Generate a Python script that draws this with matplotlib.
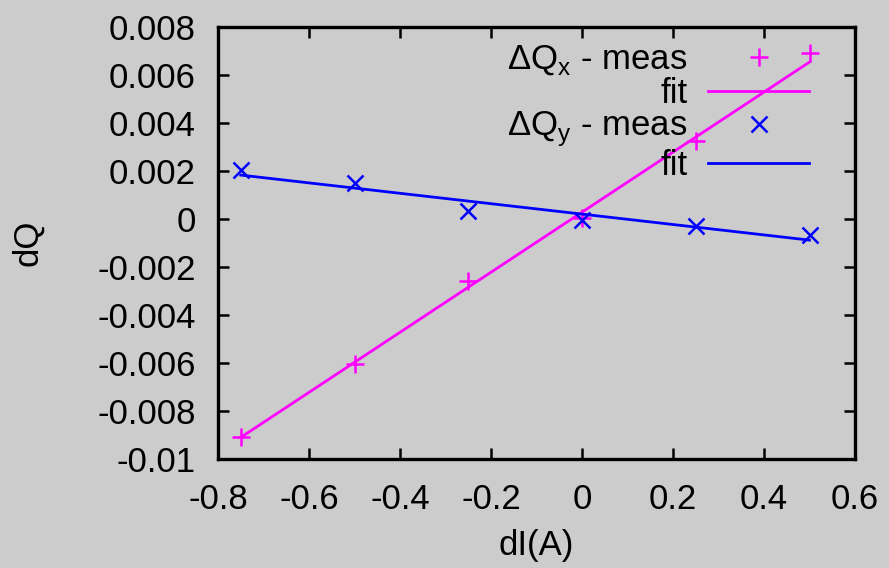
import matplotlib

matplotlib.use("Agg")
import matplotlib.pyplot as plt

# measured tune shifts vs current change
dI = [-0.75, -0.5, -0.25, 0.0, 0.25, 0.5]
dQx_meas = [-0.00908, -0.00606, -0.00260, 0.00004, 0.00325, 0.00690]
dQy_meas = [0.00204, 0.00150, 0.00033, -0.00006, -0.00030, -0.00066]

# fitted lines (end points)
fit_x = [-0.75, 0.5]
fitx_y = [-0.00910, 0.00654]
fity_y = [0.00183, -0.00088]

xticks = [-0.8, -0.6, -0.4, -0.2, 0, 0.2, 0.4, 0.6]
yticks = [0.008, 0.006, 0.004, 0.002, 0, -0.002, -0.004, -0.006, -0.008, -0.01]

BG = "#cccccc"
MAGENTA = "#ff00ff"
BLUE = "#0000ff"

plt.rcParams["font.family"] = ["Liberation Sans", "DejaVu Sans"]
plt.rcParams["font.size"] = 25
plt.rcParams["mathtext.fontset"] = "custom"
plt.rcParams["mathtext.rm"] = "Liberation Sans"

fig = plt.figure(figsize=(8.89, 5.68), dpi=100, facecolor=BG)
ax = fig.add_axes([218 / 889, 1 - 459 / 568, 637 / 889, 432 / 568], facecolor=BG)

ax.plot(dI, dQx_meas, linestyle="none", marker="+", markersize=13,
        markeredgewidth=1.8, color=MAGENTA, label="ΔQ$_\\mathregular{x}$ - meas")
ax.plot(fit_x, fitx_y, color=MAGENTA, linewidth=2.0, label="fit")
ax.plot(dI, dQy_meas, linestyle="none", marker="x", markersize=11.5,
        markeredgewidth=1.8, color=BLUE, label="ΔQ$_\\mathregular{y}$ - meas")
ax.plot(fit_x, fity_y, color=BLUE, linewidth=2.0, label="fit")

ax.set_xlim(-0.8, 0.6)
ax.set_ylim(-0.01, 0.008)
ax.set_xticks(xticks)
ax.set_xticklabels([f"{t:g}" for t in xticks])
ax.set_yticks(yticks)
ax.set_yticklabels([f"{t:g}" for t in yticks])
ax.tick_params(direction="in", length=8, width=1.8, top=True, right=True)
ax.tick_params(axis="x", pad=17)
ax.tick_params(axis="y", pad=16)
for sp in ax.spines.values():
    sp.set_linewidth(2.4)

ax.set_xlabel("dI(A)", labelpad=10)
ax.set_ylabel("dQ", labelpad=38)

ax.legend(loc="upper right", bbox_to_anchor=(0.966, 1.02), frameon=False,
          markerfirst=False, numpoints=1, handlelength=2.9, handletextpad=0.6,
          borderpad=0.2, labelspacing=0.0)

fig.savefig("out.png", dpi=100, facecolor=BG)
